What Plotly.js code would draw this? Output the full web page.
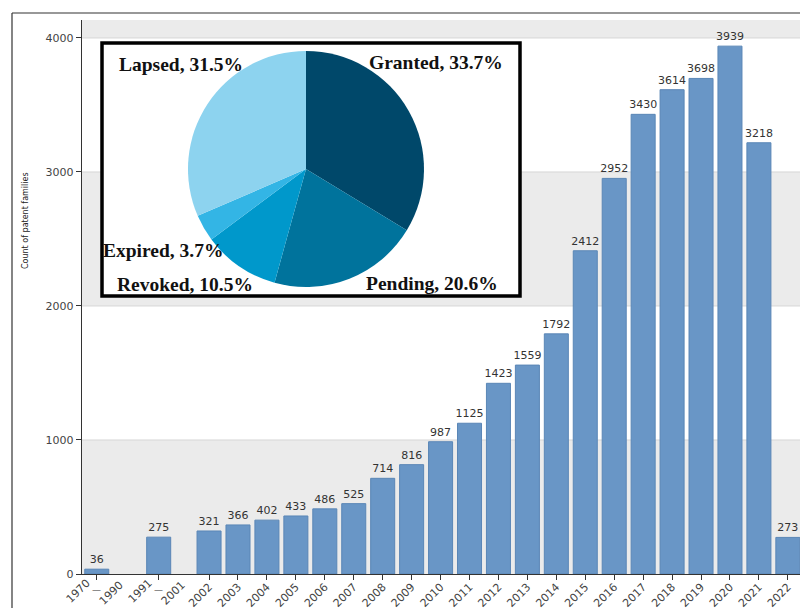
<!DOCTYPE html>
<html>
<head>
<meta charset="utf-8">
<script src="https://cdn.plot.ly/plotly-3.0.1.min.js"></script>
<style>
html,body{margin:0;padding:0;background:#fff;overflow:hidden;}
#chart{width:800px;height:608px;}
</style>
</head>
<body>
<div id="chart"></div>
<script>
// ---- data ----
const categories = ["1970—1990","1991—2001","2002","2003","2004","2005","2006","2007","2008","2009","2010","2011","2012","2013","2014","2015","2016","2017","2018","2019","2020","2021","2022"];
const counts = [36,275,321,366,402,433,486,525,714,816,987,1125,1423,1559,1792,2412,2952,3430,3614,3698,3939,3218,273];
const statusLabels = ["Granted","Pending","Revoked","Expired","Lapsed"];
const statusShares = [33.7,20.6,10.5,3.7,31.5];
const yTicks = [0,1000,2000,3000,4000];

// ---- layout helpers ----
// the first two categories are wider time spans and sit at uneven spacing
const xPos = categories.map((c,i)=> i===0 ? 0 : (i===1 ? 2.14 : 3.88 + (i-2)));
const pieColors = ["#00486a","#00739c","#0098cb","#33b5e5","#8dd3ef"];
const labelPos = [
  {x:436,y:63},{x:432,y:283},{x:185,y:284},{x:163,y:250},{x:181,y:64}
];
const L=82, T=20, W=800, H=608, B=34;
const pw = W-L, ph = H-T-B;
const px = v => (v-L)/pw;
const py = v => (H-B-v)/ph;
const tickFont = {family:'DejaVu Sans, Verdana, sans-serif',size:11,color:'#444'};

const bar = {
  type:'bar', x:xPos, y:counts, width:0.83,
  marker:{color:'#6996c6', line:{color:'#5a86b6', width:1}},
  text:counts.map(String), textposition:'outside', cliponaxis:false, constraintext:'none',
  textfont:{family:'DejaVu Sans, Verdana, sans-serif', size:11, color:'#333'},
  hoverinfo:'skip'
};
const pie = {
  type:'pie', labels:statusLabels, values:statusShares, sort:false,
  direction:'clockwise', rotation:0,
  marker:{colors:pieColors, line:{width:0}},
  textinfo:'none', hoverinfo:'skip', showlegend:false,
  domain:{x:[px(188),px(424)], y:[py(287),py(51)]}
};

const shapes = [];
const bands = [[0,1000,'#ebebeb'],[1000,2000,'#ffffff'],[2000,3000,'#ebebeb'],[3000,4000,'#ffffff'],[4000,4200,'#ebebeb']];
bands.forEach(b=>shapes.push({type:'rect',xref:'paper',yref:'y',x0:0,x1:1,y0:b[0],y1:b[1],fillcolor:b[2],line:{width:0},layer:'below'}));
yTicks.slice(1).forEach(v=>shapes.push({type:'line',xref:'paper',yref:'y',x0:0,x1:1,y0:v,y1:v,line:{color:'#d6d6d6',width:1},layer:'below'}));
// outer frame
shapes.push({type:'line',xref:'paper',yref:'paper',x0:px(12),x1:px(12),y0:py(13),y1:py(620),line:{color:'#333',width:1.2},layer:'below'});
shapes.push({type:'line',xref:'paper',yref:'paper',x0:px(12),x1:px(820),y0:py(13),y1:py(13),line:{color:'#333',width:1.2},layer:'below'});
// inset box
shapes.push({type:'rect',xref:'paper',yref:'paper',x0:px(102),x1:px(520),y0:py(296),y1:py(43),fillcolor:'#ffffff',line:{color:'#000',width:3.5},layer:'below'});

const annotations = statusLabels.map((s,i)=>({
  xref:'paper',yref:'paper',x:px(labelPos[i].x),y:py(labelPos[i].y),
  text:'<b>'+s+', '+statusShares[i].toFixed(1)+'%</b>',showarrow:false,
  xanchor:'center',yanchor:'middle',
  font:{family:'Liberation Serif, Times New Roman, serif',size:19.5,color:'#111'}
}));
annotations.push({xref:'paper',yref:'paper',x:px(25),y:py(221),text:'Count of patent families',textangle:-90,showarrow:false,
  xanchor:'center',yanchor:'middle',
  font:{family:'DejaVu Sans, Verdana, sans-serif',size:8,color:'#222'}});

// split range labels (first two categories) drawn as separate pieces
const ticktext = categories.map(c=> c.includes('—') ? '' : c);
categories.forEach((c,i)=>{
  if(!c.includes('—')) return;
  const parts = c.split('—');
  annotations.push({xref:'x',yref:'paper',x:xPos[i],xshift:-19,y:py(591),text:parts[0],textangle:-45,showarrow:false,xanchor:'center',yanchor:'middle',font:tickFont});
  annotations.push({xref:'x',yref:'paper',x:xPos[i],xshift:0,y:py(590),text:'—',showarrow:false,xanchor:'center',yanchor:'middle',font:{family:tickFont.family,size:9,color:'#333'}});
  annotations.push({xref:'x',yref:'paper',x:xPos[i],xshift:14,y:py(593),text:parts[1],textangle:-45,showarrow:false,xanchor:'center',yanchor:'middle',font:tickFont});
});

const layout = {
  width:W, height:H,
  margin:{l:L,r:0,t:T,b:B,pad:0},
  paper_bgcolor:'#ffffff', plot_bgcolor:'rgba(0,0,0,0)',
  showlegend:false,
  xaxis:{
    range:[-0.51,24.3], tickmode:'array', tickvals:xPos, ticktext:ticktext,
    tickangle:-45, ticks:'outside', ticklen:5, tickcolor:'#333', ticklabelstandoff:-4,
    showline:true, linecolor:'#333', linewidth:1.3, showgrid:false, zeroline:false,
    tickfont:tickFont, automargin:false
  },
  yaxis:{
    range:[0,4134], tickmode:'array', tickvals:yTicks, ticks:'outside', ticklen:5, tickcolor:'#333',
    showline:true, linecolor:'#333', linewidth:1.3, showgrid:false, zeroline:false,
    tickfont:{family:'DejaVu Sans, Verdana, sans-serif',size:11,color:'#444'}
  },
  shapes:shapes, annotations:annotations
};
Plotly.newPlot('chart',[bar,pie],layout,{displayModeBar:false,staticPlot:true});
</script>
</body>
</html>
